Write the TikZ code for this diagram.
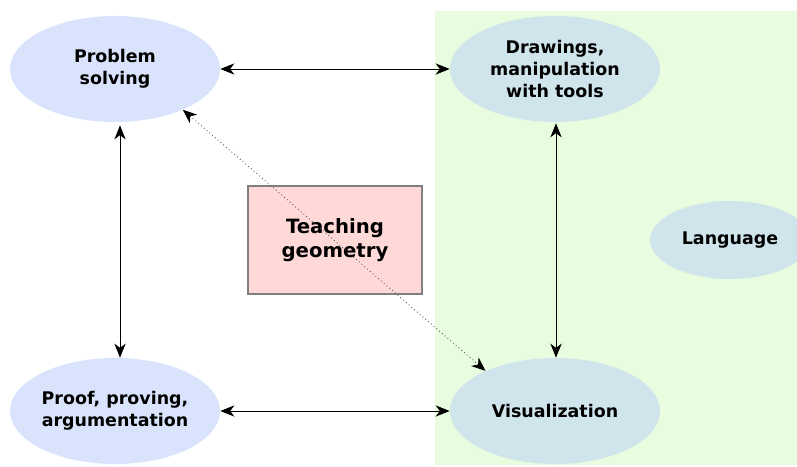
\documentclass[tikz,border=0pt]{standalone}
\usepackage{fontspec}
\setmainfont{DejaVu Sans}
\usepackage{tikz}
\usetikzlibrary{arrows.meta,shapes.geometric,positioning,calc}
\definecolor{leftblue}{HTML}{D9E4FC}
\definecolor{rightblue}{HTML}{D0E4EC}
\definecolor{areagreen}{HTML}{E8FCDF}
\definecolor{boxpink}{HTML}{FFD8D8}
\definecolor{boxgray}{HTML}{808080}
\tikzset{
  topic/.style={ellipse,inner sep=0pt,minimum width=5.25cm,minimum height=2.65cm,
    align=center,font=\fontsize{12.4}{15.6}\selectfont\bfseries},
  link/.style={line width=0.7pt,{Stealth[length=10pt,width=8pt,inset=3pt]}-{Stealth[length=10pt,width=8pt,inset=3pt]}},
}
\begin{document}
\begin{tikzpicture}[x=0.025cm,y=-0.025cm]
\useasboundingbox (0,0) rectangle (797,467);
\fill[areagreen] (435,11) rectangle (797,465);
\node[topic,fill=leftblue] (PS) at (115,69) {Problem\\solving};
\node[topic,fill=rightblue] (DR) at (555,69) {Drawings,\\manipulation\\with tools};
\node[topic,fill=leftblue] (PR) at (115,411) {Proof, proving,\\argumentation};
\node[topic,fill=rightblue] (VI) at (555,411) {Visualization};
\node[topic,fill=rightblue,minimum width=4cm,minimum height=1.95cm] (LA) at (730,240) {Language};
\node[draw=boxgray,line width=1.5pt,fill=boxpink,minimum width=4.33cm,minimum height=2.7cm,
  align=center,font=\fontsize{14}{17}\selectfont\bfseries] (TG) at (335,240) {Teaching\\geometry};
\draw[link] (PS) -- (DR);
\draw[link] (PR) -- (VI);
\draw[link] ($(PS.south)+(5,3)$) -- ($(PR.north)+(5,0)$);
\draw[link] ($(DR.south)+(1,1)$) -- ($(VI.north)+(1,0)$);
\draw[dotted,black!70,line width=0.6pt,{Stealth[length=10pt,width=8pt,inset=3pt,black]}-{Stealth[length=10pt,width=8pt,inset=3pt,black]}] (PS.-31) -- (VI.150);
\end{tikzpicture}
\end{document}
